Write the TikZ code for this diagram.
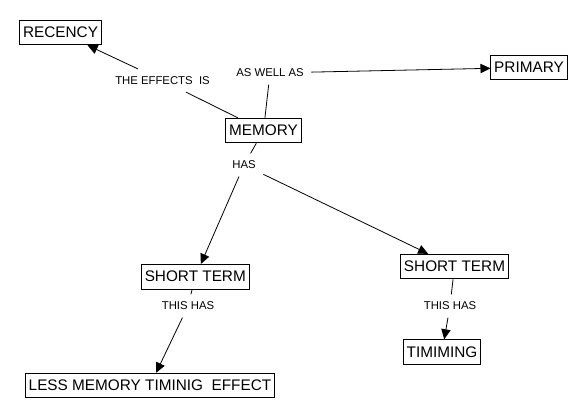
\documentclass[tikz,border=0pt]{standalone}
\usepackage{fontspec}
\setmainfont{Liberation Sans}
\usetikzlibrary{arrows.meta}
\begin{document}
\begin{tikzpicture}[x=0.75pt,y=-0.75pt,
 concept/.style={draw, line width=0.6pt, font=\fontsize{11.5}{13}\selectfont, inner xsep=2.5pt, inner ysep=0pt, minimum height=18.5pt},
 linkword/.style={font=\fontsize{8.5}{10}\selectfont, inner sep=5.5pt},
 conn/.style={line width=0.6pt},
 arr/.style={conn, -{Triangle[length=7.5pt,width=7pt]}}]
\useasboundingbox (0,0) rectangle (588,418);
\node[concept] (recency) at (60.5,32.5) {RECENCY};
\node[concept] (primary) at (529,67.5) {PRIMARY};
\node[concept] (memory) at (263.5,130.5) {MEMORY};
\node[concept] (stl) at (195.3,276.7) {SHORT TERM};
\node[concept] (str) at (454.5,266.5) {SHORT TERM};
\node[concept] (less) at (150,385.5) {LESS MEMORY TIMINIG~~EFFECT};
\node[concept] (timiming) at (442,352) {TIMIMING};
\node[linkword] (effects) at (162.5,80.5) {THE EFFECTS~~IS};
\node[linkword] (aswell) at (270,73) {AS WELL AS};
\node[linkword] (has) at (244,165) {HAS};
\node[linkword] (thisl) at (188,306) {THIS HAS};
\node[linkword] (thisr) at (450,306) {THIS HAS};
\draw[conn] (memory) -- (effects);
\draw[arr] (effects) -- (recency);
\draw[conn] (memory) -- (aswell);
\draw[arr] (aswell) -- (primary);
\draw[conn] (memory) -- (has);
\draw[arr] (has) -- (stl);
\draw[arr] (has) -- (str);
\draw[conn] (stl) -- (thisl);
\draw[arr] (thisl) -- (less);
\draw[conn] (str) -- (thisr);
\draw[arr] (thisr) -- (timiming);
\end{tikzpicture}
\end{document}
